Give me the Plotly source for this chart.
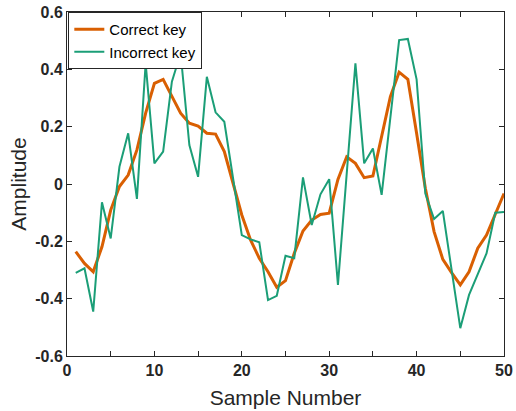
import plotly.graph_objects as go

samples = list(range(1, 51))

correct_key = [-0.236, -0.277, -0.306, -0.219, -0.091, -0.009, 0.031, 0.119, 0.247, 0.351,
               0.365, 0.305, 0.247, 0.212, 0.202, 0.177, 0.174, 0.113, 0.002, -0.108,
               -0.195, -0.259, -0.306, -0.360, -0.337, -0.242, -0.164, -0.126, -0.106, -0.102,
               0.016, 0.095, 0.072, 0.022, 0.028, 0.165, 0.305, 0.390, 0.365, 0.177,
               -0.015, -0.166, -0.263, -0.309, -0.352, -0.306, -0.224, -0.178, -0.102, -0.033]

incorrect_key = [-0.310, -0.294, -0.445, -0.064, -0.190, 0.060, 0.177, -0.052, 0.421, 0.072,
                 0.113, 0.357, 0.456, 0.136, 0.025, 0.374, 0.250, 0.217, 0.020, -0.178,
                 -0.193, -0.203, -0.405, -0.390, -0.250, -0.259, 0.023, -0.143, -0.036, 0.017,
                 -0.352, 0.035, 0.421, 0.072, 0.124, -0.038, 0.233, 0.502, 0.506, 0.365,
                 -0.033, -0.122, -0.094, -0.300, -0.503, -0.387, -0.314, -0.242, -0.100, -0.098]

x_tickvals = [0, 5, 10, 15, 20, 25, 30, 35, 40, 45, 50]
x_ticktext = ["0", "", "10", "", "20", "", "30", "", "40", "", "50"]
y_tickvals = [-0.6, -0.4, -0.2, 0, 0.2, 0.4, 0.6]
y_ticktext = ["-0.6", "-0.4", "-0.2", "0", "0.2", "0.4", "0.6"]

FONT = "Liberation Sans, Arial, sans-serif"

fig = go.Figure()
fig.add_trace(go.Scatter(x=samples, y=correct_key, mode="lines", name="Correct key",
                         line=dict(color="#D95F02", width=3)))
fig.add_trace(go.Scatter(x=samples, y=incorrect_key, mode="lines", name="Incorrect key",
                         line=dict(color="#1B9E77", width=2)))

axis_common = dict(showgrid=False, zeroline=False, showline=True, linecolor="#262626",
                   linewidth=1, mirror="ticks", ticks="inside", ticklen=5, tickcolor="#262626",
                   automargin=False,
                   tickfont=dict(family=FONT, size=16, color="#262626", weight="bold"))

fig.update_xaxes(range=[0, 50], tickmode="array", tickvals=x_tickvals, ticktext=x_ticktext,
                 ticklabelstandoff=0,
                 title=dict(text="Sample Number", standoff=12,
                            font=dict(family=FONT, size=21, color="#262626")),
                 **axis_common)
fig.update_yaxes(range=[-0.6, 0.6], tickmode="array", tickvals=y_tickvals, ticktext=y_ticktext,
                 ticklabelstandoff=0,
                 title=dict(text="Amplitude", standoff=2,
                            font=dict(family=FONT, size=21, color="#262626")),
                 **axis_common)

fig.update_layout(
    width=516, height=411,
    margin=dict(l=67, r=12, t=12, b=55),
    paper_bgcolor="white", plot_bgcolor="white",
    legend=dict(x=0.003, y=1.0, xanchor="left", yanchor="top",
                bgcolor="white", bordercolor="#262626", borderwidth=1,
                font=dict(family=FONT, size=15, color="#000000"),
                tracegroupgap=0, itemwidth=30),
)

fig.write_html("out.html", config={"displayModeBar": False},
               post_script="document.body.style.margin='0';")
